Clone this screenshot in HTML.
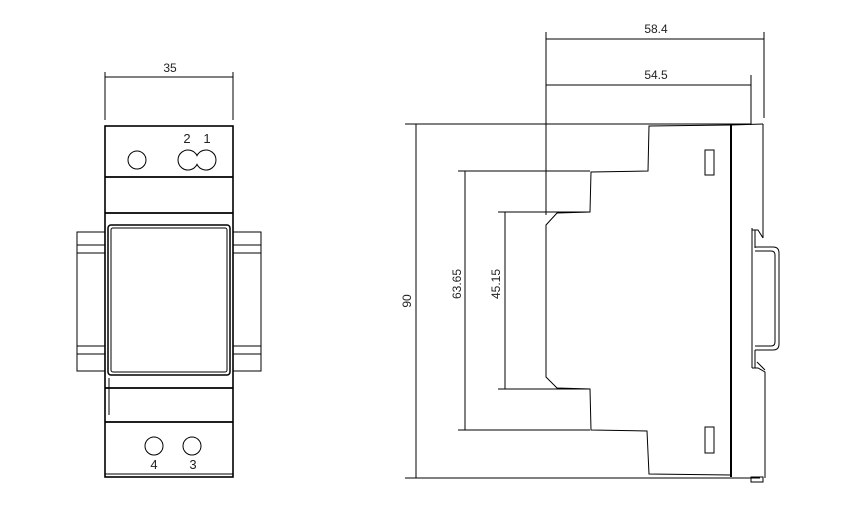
<!DOCTYPE html>
<html><head><style>
html,body{margin:0;padding:0;background:#fff;width:852px;height:528px;overflow:hidden}
svg text{font-family:"Liberation Sans",sans-serif;fill:#222}
</style></head><body>
<svg width="852" height="528" viewBox="0 0 852 528" fill="none" stroke="#000" stroke-width="1">
<!-- LEFT VIEW -->
<line x1="105" y1="72" x2="105" y2="120"/><line x1="233" y1="72" x2="233" y2="120"/>
<line x1="105" y1="77" x2="233" y2="77"/>
<text x="170" y="72" font-size="12" text-anchor="middle" stroke="none">35</text>
<!-- rails -->
<rect x="77" y="232" width="28" height="139"/>
<line x1="77" y1="245" x2="105" y2="245"/><line x1="77" y1="253" x2="105" y2="253"/>
<line x1="77" y1="346" x2="105" y2="346"/><line x1="77" y1="354" x2="105" y2="354"/>
<rect x="233" y="232" width="28" height="139"/>
<line x1="233" y1="245" x2="261" y2="245"/><line x1="233" y1="253" x2="261" y2="253"/>
<line x1="233" y1="346" x2="261" y2="346"/><line x1="233" y1="354" x2="261" y2="354"/>
<!-- body -->
<rect x="105" y="126" width="128" height="351" stroke-width="1.6"/>
<line x1="105" y1="177" x2="233" y2="177" stroke-width="1.8"/>
<line x1="105" y1="213" x2="233" y2="213" stroke-width="1.8"/>
<rect x="108" y="225" width="122" height="150" rx="3" stroke-width="1.5"/>
<rect x="111" y="228" width="116" height="144" rx="2"/>
<line x1="105" y1="388" x2="233" y2="388" stroke-width="1.8"/>
<line x1="109" y1="378" x2="109" y2="415"/>
<line x1="105" y1="422" x2="233" y2="422" stroke-width="1.8"/>
<line x1="105" y1="474" x2="233" y2="474"/>
<circle cx="137" cy="160" r="9"/>
<path d="M197,155.6 A10,10 0 1,1 197,164.4 A10,10 0 1,1 197,155.6 Z"/>
<text x="187" y="143" font-size="13" text-anchor="middle" stroke="none">2</text>
<text x="207" y="143" font-size="13" text-anchor="middle" stroke="none">1</text>
<circle cx="154" cy="446" r="9"/><circle cx="192" cy="446" r="9"/>
<text x="154" y="469" font-size="13" text-anchor="middle" stroke="none">4</text>
<text x="193" y="469" font-size="13" text-anchor="middle" stroke="none">3</text>
<!-- RIGHT VIEW dims -->
<line x1="546" y1="32" x2="546" y2="215"/>
<line x1="764" y1="32" x2="764" y2="118"/>
<line x1="751" y1="75" x2="751" y2="125"/>
<line x1="546" y1="39" x2="764" y2="39"/>
<line x1="546" y1="85" x2="751" y2="85"/>
<text x="656" y="33" font-size="12" text-anchor="middle" stroke="none">58.4</text>
<text x="656" y="79" font-size="12" text-anchor="middle" stroke="none">54.5</text>
<line x1="405" y1="124" x2="751" y2="124"/>
<line x1="405" y1="478" x2="760" y2="478"/>
<line x1="416" y1="124" x2="416" y2="478"/>
<text x="0" y="0" font-size="12" text-anchor="middle" stroke="none" transform="translate(411,301) rotate(-90)">90</text>
<line x1="458" y1="171" x2="590" y2="171"/>
<line x1="458" y1="430" x2="590" y2="430"/>
<line x1="465" y1="171" x2="465" y2="430"/>
<text x="0" y="0" font-size="12" text-anchor="middle" stroke="none" transform="translate(461,284) rotate(-90)">63.65</text>
<line x1="498" y1="212" x2="590" y2="212"/>
<line x1="498" y1="389" x2="590" y2="389"/>
<line x1="505" y1="212" x2="505" y2="389"/>
<text x="0" y="0" font-size="12" text-anchor="middle" stroke="none" transform="translate(500,284) rotate(-90)">45.15</text>
<!-- profile -->
<path d="M731,125 L649,126 L648,171 L591,172 L590,212 L557,213 L546,225 L546,377 L557,388 L590,389 L591,430 L647,431 L649,474 L731,475"/>
<line x1="731" y1="125" x2="731" y2="477" stroke-width="2"/>
<rect x="705" y="150" width="9" height="25"/>
<rect x="705" y="427" width="9" height="26"/>
<line x1="731" y1="125" x2="763" y2="124"/>
<line x1="763" y1="124" x2="763" y2="238"/>
<path d="M752,228 L752,368 M755,230 L755,248 M752,230 L758,230 L763,238"/>
<path d="M755,247 L773,247 Q779,247 779,253 L779,344 Q779,350 773,350 L755,350"/>
<path d="M755,251 L771,251 Q775,251 775,255 L775,342 Q775,346 771,346 L755,346"/>
<path d="M755,350 L755,368 M752,368 L758,368 L765,372 L765,478 M757,362 L765,370"/>
<rect x="751" y="477" width="12" height="5"/>
</svg>
</body></html>
